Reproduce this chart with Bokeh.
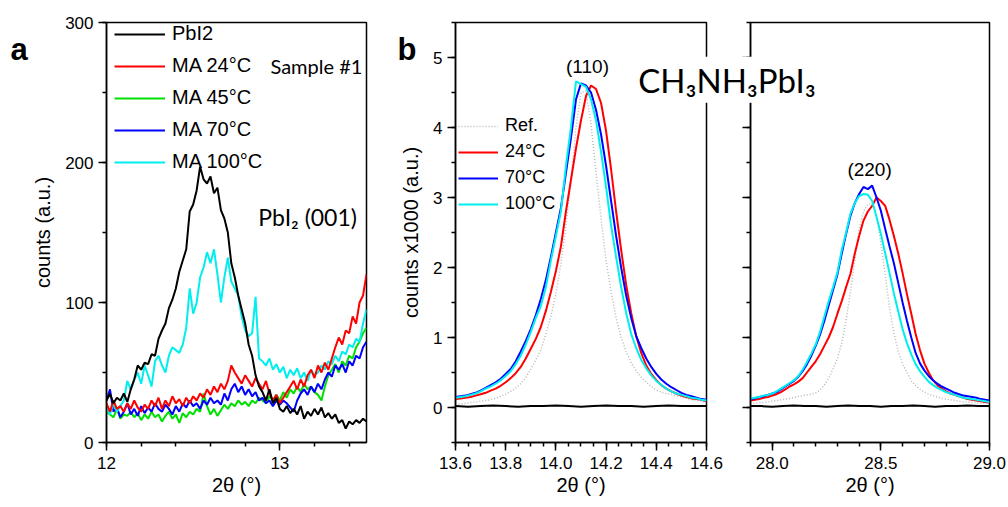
import numpy as np
from bokeh.plotting import figure
from bokeh.models import (Legend, LegendItem, Label, SingleIntervalTicker, Range1d,
                          CustomJSTickFormatter, NumeralTickFormatter)
from bokeh.layouts import row
from bokeh.embed import file_html
from bokeh.resources import INLINE

# ---------------- Panel a data (2theta 12.00 .. 13.50, step 0.02) ----------------
tt_a = np.round(np.arange(76) * 0.02 + 12.0, 2)
pbi2_a = [30, 35, 28, 32, 30, 35, 29, 38, 45, 55, 52, 57, 56, 63, 62, 74, 80, 85, 96, 102,
          110, 122, 130, 138, 165, 170, 180, 197, 188, 185, 190, 178, 182, 166, 160, 150, 128, 118, 105, 95,
          85, 70, 62, 48, 40, 36, 30, 38, 28, 32, 24, 22, 26, 21, 24, 20, 26, 17, 22, 19,
          24, 20, 25, 18, 21, 17, 20, 14, 16, 10, 15, 13, 16, 14, 17, 15]
ma24_a = [28, 22, 30, 24, 26, 22, 28, 24, 30, 25, 22, 27, 24, 30, 26, 32, 24, 30, 26, 33,
          28, 31, 26, 32, 28, 33, 30, 35, 32, 38, 34, 40, 36, 42, 38, 44, 55, 50, 46, 42,
          48, 44, 40, 46, 42, 38, 44, 35, 30, 34, 28, 32, 36, 40, 44, 38, 45, 40, 48, 52,
          46, 55, 50, 57, 52, 60, 68, 75, 70, 80, 78, 90, 85, 100, 105, 120]
ma45_a = [22, 20, 18, 24, 17, 20, 19, 22, 18, 21, 16, 20, 17, 22, 18, 20, 15, 19, 22, 17,
          20, 14, 21, 18, 22, 20, 24, 22, 35, 26, 20, 24, 19, 23, 27, 24, 28, 26, 30, 27,
          29, 26, 30, 28, 32, 30, 28, 33, 30, 34, 30, 36, 32, 38, 35, 40, 36, 42, 38, 40,
          36, 34, 30, 40, 48, 52, 56, 50, 58, 55, 62, 60, 68, 72, 78, 82]
ma70_a = [30, 38, 22, 25, 18, 22, 28, 20, 24, 19, 26, 21, 25, 22, 28, 24, 22, 27, 24, 20,
          26, 22, 28, 25, 30, 26, 28, 24, 30, 27, 32, 28, 30, 27, 35, 30, 38, 42, 36, 40,
          34, 38, 33, 36, 30, 32, 28, 30, 26, 30, 27, 30, 28, 25, 22, 30, 35, 38, 34, 40,
          36, 42, 38, 45, 50, 47, 55, 52, 56, 50, 58, 55, 62, 60, 68, 72]
ma100_a = [25, 20, 28, 22, 26, 30, 44, 38, 45, 50, 42, 55, 48, 40, 58, 62, 55, 50, 62, 68,
           66, 64, 70, 82, 110, 92, 100, 118, 125, 136, 128, 138, 120, 100, 118, 132, 115, 110, 105, 90,
           80, 76, 78, 104, 60, 58, 55, 60, 52, 56, 50, 54, 46, 52, 48, 53, 46, 50, 44, 52,
           48, 50, 55, 52, 58, 56, 62, 58, 65, 63, 70, 68, 74, 72, 85, 95]
legend_a = ["PbI2", "MA 24°C", "MA 45°C", "MA 70°C", "MA 100°C"]

# ---------------- Panel b (110) data (2theta 13.60 .. 14.60, step 0.02) ----------------
tt_b1 = np.round(np.arange(51) * 0.02 + 13.6, 2)
ref_b1 = [0.05, 0.05, 0.06, 0.07, 0.08, 0.09, 0.10, 0.11, 0.13, 0.16, 0.19, 0.23, 0.28, 0.34, 0.43, 0.55,
          0.68, 0.82, 1.05, 1.30, 1.62, 2.05, 2.60, 3.25, 4.00, 4.50, 4.52, 4.05, 3.35, 2.70, 2.10, 1.65,
          1.28, 1.00, 0.80, 0.64, 0.52, 0.43, 0.36, 0.30, 0.25, 0.22, 0.20, 0.19, 0.17, 0.15, 0.13, 0.11,
          0.10, 0.09, 0.08]
c24_b1 = [0.12, 0.13, 0.14, 0.15, 0.17, 0.19, 0.21, 0.24, 0.27, 0.31, 0.36, 0.42, 0.49, 0.58, 0.70, 0.84,
          0.98, 1.15, 1.38, 1.65, 1.95, 2.30, 2.80, 3.25, 3.70, 4.10, 4.45, 4.60, 4.55, 4.35, 3.95, 3.40,
          2.80, 2.25, 1.75, 1.35, 1.02, 0.78, 0.60, 0.48, 0.39, 0.32, 0.27, 0.23, 0.20, 0.17, 0.15, 0.13,
          0.12, 0.11, 0.09]
c70_b1 = [0.15, 0.16, 0.17, 0.19, 0.21, 0.24, 0.28, 0.32, 0.36, 0.41, 0.48, 0.55, 0.66, 0.80, 0.95, 1.12,
          1.32, 1.55, 1.82, 2.15, 2.50, 2.85, 3.35, 3.85, 4.40, 4.63, 4.60, 4.50, 4.25, 3.90, 3.45, 2.95,
          2.45, 2.00, 1.60, 1.28, 1.02, 0.85, 0.70, 0.58, 0.48, 0.40, 0.34, 0.29, 0.25, 0.21, 0.18, 0.16,
          0.14, 0.12, 0.11]
c100_b1 = [0.14, 0.15, 0.16, 0.18, 0.20, 0.23, 0.27, 0.30, 0.34, 0.39, 0.45, 0.52, 0.62, 0.74, 0.90, 1.08,
           1.28, 1.45, 1.72, 2.10, 2.45, 2.80, 3.45, 4.00, 4.66, 4.62, 4.58, 4.40, 4.10, 3.65, 3.15, 2.60,
           2.15, 1.72, 1.35, 1.05, 0.85, 0.68, 0.56, 0.46, 0.38, 0.32, 0.27, 0.23, 0.20, 0.18, 0.16, 0.14,
           0.13, 0.11, 0.10]
tt_b1_base = np.round(np.arange(21) * 0.05 + 13.6, 2)
pbi2_b1 = [0.02, 0.01, 0.02, 0.03, 0.02, 0.01, 0.02, 0.02, 0.03, 0.02, 0.01, 0.02, 0.03, 0.02, 0.02, 0.01,
           0.02, 0.03, 0.02, 0.02, 0.02]

# ---------------- Panel b (220) data (2theta 27.90 .. 29.00, step 0.02) ----------------
tt_b2 = np.round(np.arange(56) * 0.02 + 27.9, 2)
ref_b2 = [0.06, 0.06, 0.07, 0.07, 0.08, 0.09, 0.10, 0.11, 0.12, 0.13, 0.14, 0.16, 0.17, 0.18, 0.19, 0.21,
          0.25, 0.32, 0.42, 0.55, 0.70, 0.92, 1.25, 1.65, 2.10, 2.55, 2.80, 2.90, 2.92, 2.75, 2.35, 1.90,
          1.42, 1.06, 0.80, 0.62, 0.50, 0.38, 0.31, 0.26, 0.22, 0.19, 0.17, 0.15, 0.13, 0.12, 0.11, 0.10,
          0.09, 0.08, 0.08, 0.07, 0.07, 0.06, 0.06, 0.06]
c24_b2 = [0.10, 0.11, 0.12, 0.14, 0.15, 0.17, 0.19, 0.22, 0.26, 0.30, 0.33, 0.37, 0.42, 0.50, 0.58, 0.66,
          0.76, 0.88, 1.00, 1.15, 1.34, 1.52, 1.72, 1.91, 2.20, 2.45, 2.67, 2.80, 2.88, 3.00, 2.95, 2.88,
          2.68, 2.45, 2.20, 1.92, 1.62, 1.34, 1.05, 0.82, 0.63, 0.50, 0.39, 0.32, 0.27, 0.23, 0.20, 0.18,
          0.16, 0.14, 0.12, 0.11, 0.10, 0.09, 0.08, 0.07]
c70_b2 = [0.12, 0.13, 0.15, 0.16, 0.18, 0.20, 0.22, 0.26, 0.30, 0.34, 0.38, 0.44, 0.52, 0.62, 0.74, 0.88,
          1.04, 1.24, 1.46, 1.68, 1.90, 2.20, 2.48, 2.74, 2.92, 3.05, 3.15, 3.12, 3.17, 3.00, 2.81, 2.55,
          2.30, 2.06, 1.78, 1.50, 1.24, 1.00, 0.78, 0.63, 0.53, 0.45, 0.39, 0.34, 0.30, 0.27, 0.24, 0.21,
          0.19, 0.17, 0.16, 0.15, 0.14, 0.12, 0.11, 0.10]
c100_b2 = [0.13, 0.14, 0.15, 0.17, 0.18, 0.20, 0.23, 0.27, 0.31, 0.35, 0.39, 0.45, 0.54, 0.65, 0.77, 0.90,
           1.08, 1.30, 1.52, 1.72, 1.93, 2.25, 2.50, 2.77, 2.92, 3.02, 3.05, 3.04, 2.95, 2.72, 2.48, 2.20,
           1.92, 1.63, 1.37, 1.12, 0.92, 0.76, 0.62, 0.52, 0.44, 0.37, 0.32, 0.28, 0.25, 0.22, 0.20, 0.18,
           0.16, 0.14, 0.13, 0.12, 0.11, 0.10, 0.09, 0.08]
tt_b2_base = np.round(np.arange(23) * 0.05 + 27.9, 2)
pbi2_b2 = [0.02, 0.02, 0.01, 0.02, 0.03, 0.02, 0.02, 0.01, 0.02, 0.03, 0.02, 0.02, 0.01, 0.02, 0.02, 0.03,
           0.02, 0.01, 0.02, 0.02, 0.03, 0.02, 0.02]
legend_b = ["Ref.", "24°C", "70°C", "100°C"]

BLACK, RED, GREEN, BLUE, CYAN, GREY = "#000000", "#ff0000", "#00e000", "#0000ff", "#00eeee", "#b8b8b8"
AX_FONT = "Liberation Sans"
W, H = 1008, 507


def style(p, xlabel, ylabel):
    p.background_fill_color = "white"
    p.xgrid.visible = False
    p.ygrid.visible = False
    p.outline_line_color = "black"
    p.outline_line_width = 1.5
    p.outline_line_alpha = 1
    for ax in (p.xaxis[0], p.yaxis[0]):
        ax.axis_line_width = 1.5
        ax.major_tick_line_width = 1.5
        ax.minor_tick_line_width = 1.5
        ax.major_tick_in = 0
        ax.major_tick_out = 8
        ax.minor_tick_in = 0
        ax.minor_tick_out = 4
        ax.major_label_text_font = AX_FONT
        ax.major_label_text_font_size = "17px"
        ax.major_label_text_color = "black"
        ax.axis_label_text_font = AX_FONT
        ax.axis_label_text_font_size = "20px"
        ax.axis_label_text_font_style = "normal"
        ax.axis_label_text_color = "black"
    p.xaxis.axis_label = xlabel
    if ylabel:
        p.yaxis.axis_label = ylabel
    p.xaxis.major_label_standoff = 6
    p.xaxis.axis_label_standoff = 2
    p.yaxis.major_label_standoff = 5
    p.yaxis.axis_label_standoff = 8


# ---------------- Panel a ----------------
pa = figure(width=385, height=H, x_range=Range1d(12, 13.5), y_range=Range1d(0, 300),
            output_backend="svg", toolbar_location=None,
            min_border_left=106, min_border_right=19, min_border_top=22, min_border_bottom=63)
style(pa, "2θ (°)", "counts (a.u.)")
pa.xaxis.ticker = SingleIntervalTicker(interval=1, num_minor_ticks=5)
pa.yaxis.ticker = SingleIntervalTicker(interval=100, num_minor_ticks=2)

r45 = pa.line(tt_a, ma45_a, line_color=GREEN, line_width=2)
r70 = pa.line(tt_a, ma70_a, line_color=BLUE, line_width=2)
r100 = pa.line(tt_a, ma100_a, line_color=CYAN, line_width=2)
r24 = pa.line(tt_a, ma24_a, line_color=RED, line_width=2)
rpb = pa.line(tt_a, pbi2_a, line_color=BLACK, line_width=2)

leg_a = Legend(items=[LegendItem(label=l, renderers=[r]) for l, r in
                      zip(legend_a, [rpb, r24, r45, r70, r100])],
               location=(8, 269), padding=0, margin=0, spacing=9,
               glyph_width=51, glyph_height=20, label_height=20, label_standoff=7,
               label_text_font=AX_FONT, label_text_font_size="20px", label_text_color="black",
               border_line_color=None, background_fill_alpha=0)
pa.add_layout(leg_a)
pa.add_layout(Label(x=12.946, y=268.7, text="Sample #1", text_font="Lato", text_font_size="20px",
                    text_color="black", text_baseline="middle"))
pa.add_layout(Label(x=12.876, y=161, text="PbI₂ (001)", text_font="Lato", text_font_size="23px",
                    text_color="black", text_baseline="middle"))

# ---------------- Panel b, (110) ----------------
pb1 = figure(width=343, height=H, x_range=Range1d(13.6, 14.6001), y_range=Range1d(-0.5, 5.5),
             output_backend="svg", toolbar_location=None,
             min_border_left=70, min_border_right=22, min_border_top=22, min_border_bottom=65)
style(pb1, "2θ (°)", "counts x1000 (a.u.)")
pb1.xaxis.ticker = SingleIntervalTicker(interval=0.2, num_minor_ticks=4)
pb1.xaxis.formatter = NumeralTickFormatter(format="0.0")
pb1.yaxis.ticker = SingleIntervalTicker(interval=1, num_minor_ticks=2)

rr1 = pb1.line(tt_b1, ref_b1, line_color=GREY, line_width=1.5, line_dash="1 2")
r24b1 = pb1.line(tt_b1, c24_b1, line_color=RED, line_width=2)
r70b1 = pb1.line(tt_b1, c70_b1, line_color=BLUE, line_width=2)
r100b1 = pb1.line(tt_b1, c100_b1, line_color=CYAN, line_width=2)
pb1.line(tt_b1_base, pbi2_b1, line_color=BLACK, line_width=2)

leg_b = Legend(items=[LegendItem(label=l, renderers=[r]) for l, r in
                      zip(legend_b, [rr1, r24b1, r70b1, r100b1])],
               location=(3, 228), padding=0, margin=0, spacing=5,
               glyph_width=40, glyph_height=20, label_height=20, label_standoff=7,
               label_text_font=AX_FONT, label_text_font_size="18px", label_text_color="black",
               border_line_color=None, background_fill_alpha=0)
pb1.add_layout(leg_b)
pb1.add_layout(Label(x=14.126, y=4.87, text="(110)", text_font=AX_FONT, text_font_size="19px",
                     text_color="black", text_align="center", text_baseline="middle"))

# ---------------- Panel b, (220) ----------------
pb2 = figure(width=380, height=H, x_range=Range1d(27.9, 29.0), y_range=Range1d(-0.5, 5.5),
             output_backend="svg", toolbar_location=None,
             min_border_left=122, min_border_right=19, min_border_top=22, min_border_bottom=65)
style(pb2, "2θ (°)", None)
pb2.background_fill_color = None
pb2.border_fill_color = None
pb2.margin = (0, 0, 0, -100)
pb2.xaxis.ticker = SingleIntervalTicker(interval=0.5, num_minor_ticks=5)
pb2.xaxis.formatter = NumeralTickFormatter(format="0.0")
pb2.yaxis.ticker = SingleIntervalTicker(interval=1, num_minor_ticks=2)
pb2.yaxis.formatter = CustomJSTickFormatter(code="return ''")

pb2.line(tt_b2, ref_b2, line_color=GREY, line_width=1.5, line_dash="1 2")
pb2.line(tt_b2, c24_b2, line_color=RED, line_width=2)
pb2.line(tt_b2, c70_b2, line_color=BLUE, line_width=2)
pb2.line(tt_b2, c100_b2, line_color=CYAN, line_width=2)
pb2.line(tt_b2_base, pbi2_b2, line_color=BLACK, line_width=2)
pb2.add_layout(Label(x=28.448, y=3.40, text="(220)", text_font=AX_FONT, text_font_size="19px",
                     text_color="black", text_align="center", text_baseline="middle"))

# ---------------- transparent overlay (pixel-like data space) for free-floating texts ----------------
ov = figure(width=W, height=H, x_range=Range1d(0, W), y_range=Range1d(H, 0),
            output_backend="svg", toolbar_location=None,
            x_axis_location=None, y_axis_location=None,
            min_border_left=0, min_border_right=0, min_border_top=0, min_border_bottom=0)
ov.margin = (0, 0, 0, -W)
ov.background_fill_color = None
ov.border_fill_color = None
ov.outline_line_color = None
ov.xgrid.visible = False
ov.ygrid.visible = False
ov.add_layout(Label(x=10, y=33, text="a", text_color="black",
                    text_font=AX_FONT, text_font_size="31px",
                    text_font_style="bold", text_baseline="alphabetic"))
ov.add_layout(Label(x=397, y=33, text="b", text_color="black",
                    text_font=AX_FONT, text_font_size="31px",
                    text_font_style="bold", text_baseline="alphabetic"))
ov.add_layout(Label(x=726.5, y=69, text="CH₃NH₃PbI₃", text_color="black",
                    text_font="Lato", text_font_size="33px",
                    text_align="center", text_baseline="middle",
                    background_fill_color="white", padding=(12, 3)))

layout = row(pa, pb1, pb2, ov)
open("out.html", "w").write(file_html(layout, INLINE))
